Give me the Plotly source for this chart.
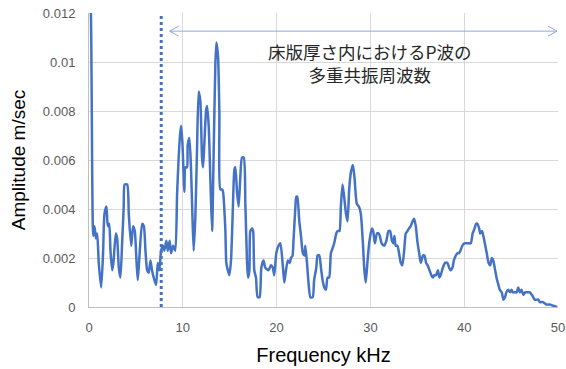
import plotly.graph_objects as go

# ---- data ----
freq_khz = [0.0, 0.2, 0.45, 0.59, 0.73, 0.87, 1.04, 1.3, 1.5, 1.65, 1.86, 2.0, 2.15, 2.29, 2.47, 2.6,
            2.86, 3.0, 3.18, 3.35, 3.53, 3.7, 3.8, 4.07, 4.24, 4.5, 4.7, 4.88, 5.06, 5.2, 5.4, 5.67,
            5.85, 6.02, 6.2, 6.37, 6.55, 6.72, 6.9, 7.15, 7.33, 7.5, 7.69, 7.9, 8.03, 8.25, 8.4, 8.6,
            8.75, 8.97, 9.2, 9.39, 9.56, 9.7, 9.82, 9.96, 10.17, 10.28, 10.45, 10.52, 10.7, 10.88,
            11.02, 11.16, 11.34, 11.52, 11.69, 11.87, 12.05, 12.16, 12.3, 12.48, 12.59, 12.76, 12.94,
            13.12, 13.3, 13.47, 13.58, 13.76, 13.9, 14.0, 14.2, 14.29, 14.4, 14.54, 14.64, 14.8, 14.96,
            15.14, 15.31, 15.5, 15.6, 15.78, 15.95, 16.13, 16.31, 16.5, 16.67, 16.85, 16.95, 17.1,
            17.2, 17.4, 17.5, 17.62, 17.8, 17.98, 18.19, 18.37, 18.6, 18.8, 19.14, 19.4, 19.6, 19.75,
            19.97, 20.2, 20.4, 20.68, 20.82, 21.0, 21.2, 21.4, 21.53, 21.7, 21.8, 21.99, 22.1, 22.2,
            22.42, 22.6, 22.8, 22.97, 23.06, 23.24, 23.4, 23.6, 23.85, 24.0, 24.23, 24.37, 24.55,
            24.73, 24.9, 25.08, 25.26, 25.43, 25.6, 25.79, 25.97, 26.14, 26.36, 26.5, 26.7, 26.85,
            27.03, 27.2, 27.4, 27.56, 27.74, 27.92, 28.13, 28.3, 28.56, 28.78, 28.98, 29.2, 29.34,
            29.5, 29.7, 29.9, 30.16, 30.3, 30.48, 30.7, 30.9, 31.0, 31.2, 31.47, 31.7, 31.93, 32.1,
            32.3, 32.46, 32.56, 32.7, 32.88, 33.05, 33.24, 33.4, 33.6, 33.77, 33.95, 34.1, 34.3, 34.5,
            34.66, 34.84, 35.0, 35.2, 35.37, 35.6, 35.76, 35.94, 36.1, 36.3, 36.5, 36.65, 36.83, 37.0,
            37.2, 37.36, 37.5, 37.72, 37.97, 38.2, 38.4, 38.57, 38.75, 38.9, 39.1, 39.3, 39.46, 39.6,
            39.8, 40.0, 40.2, 40.45, 40.7, 40.9, 41.1, 41.27, 41.4, 41.6, 41.7, 41.9, 42.04, 42.2,
            42.4, 42.6, 42.78, 42.94, 43.1, 43.3, 43.5, 43.65, 43.8, 44.0, 44.18, 44.35, 44.5, 44.7,
            44.9, 45.05, 45.2, 45.4, 45.6, 45.76, 45.94, 46.1, 46.3, 46.5, 46.65, 46.83, 47.0, 47.2,
            47.36, 47.5, 47.7, 47.9, 48.07, 48.4, 48.75, 49.1, 49.5, 49.9]
amplitude = [0.0135, 0.0120, 0.0029, 0.0033, 0.0028, 0.0030, 0.0018, 0.0008, 0.0022, 0.0038, 0.0041,
             0.0033, 0.0034, 0.0023, 0.0015, 0.0018, 0.0030, 0.0028, 0.0016, 0.0012, 0.0026, 0.0041,
             0.0050, 0.0050, 0.0038, 0.0025, 0.0033, 0.0031, 0.0019, 0.0011, 0.0022, 0.0034, 0.0033,
             0.0023, 0.0015, 0.0014, 0.0019, 0.0015, 0.0012, 0.0009, 0.0018, 0.0015, 0.0023, 0.0025,
             0.0023, 0.0027, 0.0023, 0.0027, 0.0022, 0.0025, 0.0023, 0.0046, 0.0061, 0.0070, 0.0074,
             0.0067, 0.0047, 0.0057, 0.0057, 0.0066, 0.0069, 0.0056, 0.0038, 0.0023, 0.0037, 0.0065,
             0.0088, 0.0084, 0.0061, 0.0057, 0.0067, 0.0080, 0.0082, 0.0074, 0.0052, 0.0031, 0.0065,
             0.0099, 0.0108, 0.0102, 0.0079, 0.0048, 0.0048, 0.0047, 0.0042, 0.0031, 0.0018, 0.0015,
             0.0013, 0.0019, 0.0037, 0.0056, 0.0057, 0.0047, 0.0041, 0.0053, 0.0061, 0.0061, 0.0042,
             0.0018, 0.0012, 0.0015, 0.0031, 0.0032, 0.0031, 0.0015, 0.0012, 0.0004, 0.0004, 0.0016,
             0.0019, 0.0016, 0.0015, 0.0017, 0.0016, 0.0013, 0.0022, 0.0025, 0.0026, 0.0016, 0.0010,
             0.0015, 0.0019, 0.0018, 0.0020, 0.0021, 0.0027, 0.0040, 0.0045, 0.0045, 0.0035, 0.0029,
             0.0022, 0.0021, 0.0025, 0.0018, 0.0010, 0.0004, 0.0004, 0.0011, 0.0016, 0.0021, 0.0021,
             0.0016, 0.0011, 0.0008, 0.0007, 0.0012, 0.0012, 0.0022, 0.0024, 0.0026, 0.0030, 0.0031,
             0.0031, 0.0041, 0.0050, 0.0045, 0.0038, 0.0035, 0.0048, 0.0055, 0.0058, 0.0053, 0.0042,
             0.0041, 0.0038, 0.0026, 0.0016, 0.0010, 0.0019, 0.0027, 0.0032, 0.0031, 0.0026, 0.0030,
             0.0030, 0.0029, 0.0026, 0.0025, 0.0027, 0.0031, 0.0031, 0.0027, 0.0026, 0.0029, 0.0025,
             0.0025, 0.0022, 0.0018, 0.0017, 0.0023, 0.0030, 0.0031, 0.0032, 0.0033, 0.0035, 0.0036,
             0.0033, 0.0027, 0.0022, 0.0018, 0.0021, 0.0021, 0.0018, 0.0017, 0.0015, 0.0013, 0.0012,
             0.0013, 0.0013, 0.0015, 0.0012, 0.0013, 0.0016, 0.0018, 0.0018, 0.0016, 0.0015, 0.0016,
             0.0019, 0.0021, 0.0022, 0.0022, 0.0023, 0.0025, 0.0026, 0.0026, 0.0026, 0.0026, 0.0030,
             0.0032, 0.0034, 0.0034, 0.0032, 0.0030, 0.0031, 0.0029, 0.0026, 0.0022, 0.0018, 0.0017,
             0.0020, 0.0019, 0.0015, 0.0011, 0.0009, 0.0007, 0.0006, 0.0003, 0.0004, 0.0006, 0.0007,
             0.0006, 0.0007, 0.0006, 0.0006, 0.0006, 0.0008, 0.0006, 0.0007, 0.0005, 0.0006, 0.0006,
             0.0006, 0.0006, 0.0005, 0.0004, 0.0003, 0.0003, 0.0003, 0.0002, 0.0002, 0.0001, 0.0001,
             0.00005, 0.0]

x_tick_vals = [0, 10, 20, 30, 40, 50]
y_tick_vals = [0, 0.002, 0.004, 0.006, 0.008, 0.01, 0.012]
y_tick_text = ["0", "0.002", "0.004", "0.006", "0.008", "0.01", "0.012"]

marker_freq = 7.7            # dotted vertical line
range_start, range_end = 8.6, 49.9   # double arrow extent
range_level = 0.01126
label_text = "床版厚さ内におけるP波の<br>多重共振周波数"
label_x, label_y = 30, 0.00994

x_title = "Frequency kHz"
y_title = "Amplitude m/sec"

# ---- figure ----
BLUE = "#4472C4"
ARROW = "#8EA9DB"
head_dx = 0.96
head_dy = 0.000204

fig = go.Figure()
fig.add_trace(go.Scatter(x=freq_khz, y=amplitude, mode="lines",
                         line=dict(color=BLUE, width=2.5, shape="spline", smoothing=0.6),
                         hoverinfo="skip", showlegend=False))
# vertical dotted line
fig.add_trace(go.Scatter(x=[marker_freq, marker_freq], y=[y_tick_vals[0], y_tick_vals[-1]],
                         mode="lines", line=dict(color=BLUE, width=3, dash="dot"),
                         showlegend=False, hoverinfo="skip"))
# double arrow
fig.add_trace(go.Scatter(x=[range_start, range_end], y=[range_level, range_level], mode="lines",
                         line=dict(color=ARROW, width=1), showlegend=False, hoverinfo="skip"))
fig.add_trace(go.Scatter(x=[range_start + head_dx, range_start, range_start + head_dx],
                         y=[range_level + head_dy, range_level, range_level - head_dy], mode="lines",
                         line=dict(color=ARROW, width=1), showlegend=False, hoverinfo="skip"))
fig.add_trace(go.Scatter(x=[range_end - head_dx, range_end, range_end - head_dx],
                         y=[range_level + head_dy, range_level, range_level - head_dy], mode="lines",
                         line=dict(color=ARROW, width=1), showlegend=False, hoverinfo="skip"))

fig.add_annotation(x=label_x, y=label_y, xref="x", yref="y", text=label_text, showarrow=False,
                   align="center", xanchor="center", yanchor="middle",
                   font=dict(family="Noto Sans CJK JP", size=17.5, color="#262626"))

axis_font = dict(family="Arial, Liberation Sans, sans-serif", size=13, color="#595959")
fig.update_layout(
    width=566, height=369,
    margin=dict(l=88.5, r=8, t=13, b=62, autoexpand=False),
    paper_bgcolor="white", plot_bgcolor="white",
    showlegend=False,
    xaxis=dict(range=[0, 50], tickvals=x_tick_vals, showgrid=True, gridcolor="#D9D9D9", gridwidth=1,
               showline=True, linecolor="#BFBFBF", linewidth=1, zeroline=False, ticks="",
               tickfont=axis_font, ticklabelstandoff=8, automargin=False,
               title=dict(text=x_title, font=dict(family="Arial, Liberation Sans, sans-serif", size=20,
                                                   color="#000000"), standoff=14)),
    yaxis=dict(range=[0, 0.012], tickvals=y_tick_vals, ticktext=y_tick_text, showgrid=True,
               gridcolor="#D9D9D9", gridwidth=1, showline=True, linecolor="#BFBFBF", linewidth=1,
               zeroline=False, ticks="", tickfont=axis_font, ticklabelstandoff=10, automargin=False,
               title=dict(text=y_title, font=dict(family="Arial, Liberation Sans, sans-serif", size=19,
                                                   color="#000000"), standoff=12)),
)

fig.write_html("out.html")
